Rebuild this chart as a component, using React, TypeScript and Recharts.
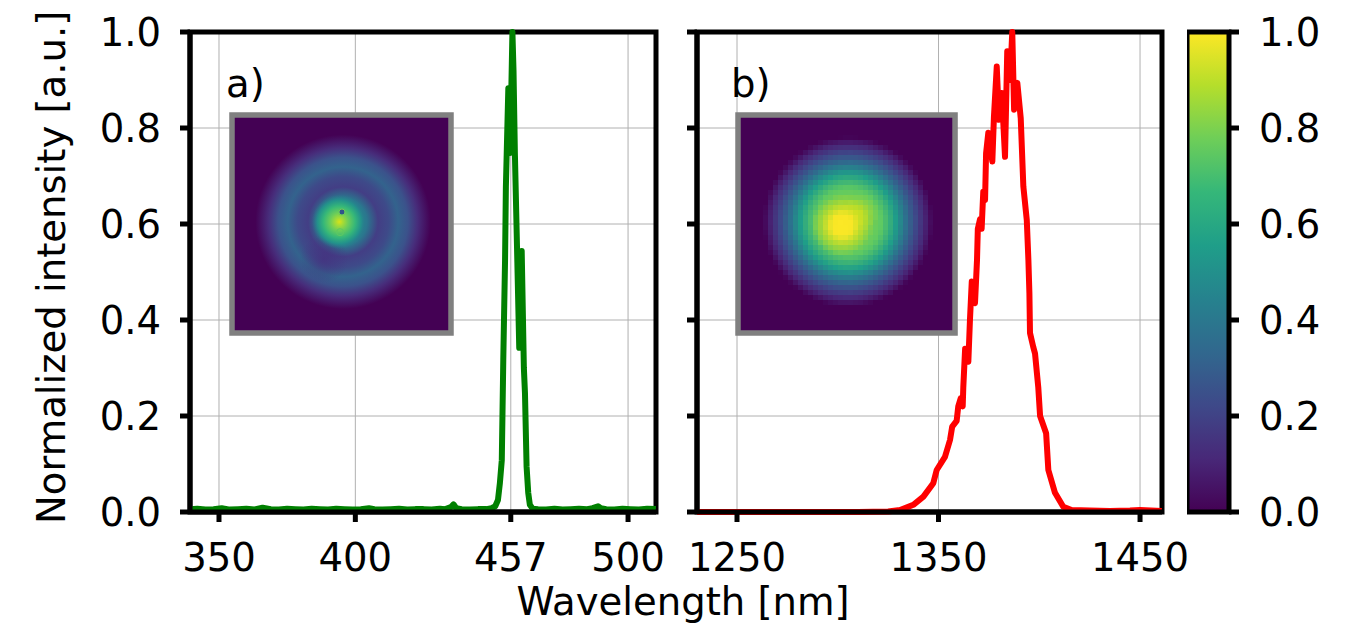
import React from "react";
import { LineChart, Line, XAxis, YAxis, CartesianGrid, ReferenceArea, ReferenceDot } from "recharts";

const greenWavelength = [339.5,342,345,348,351,354,357,360,363,366,369,372,375,378,381,384,387,390,393,396,399,402,405,407,410,413,416,419,422,425,428,431,433,435,436,437,439,442,445,448,450,451.3,452.3,453,453.7,454.25,454.9,455.2,456.1,456.7,457.1,457.6,458,458.5,459.2,460.1,461,461.8,462.2,462.8,463.4,464,465,467,470,473,476,479,482,485,487,489,490,492,495,498,501,504,507,510.2];
const greenIntensity = [0.006,0.007,0.005,0.006,0.008,0.005,0.006,0.007,0.005,0.009,0.006,0.005,0.007,0.006,0.005,0.007,0.006,0.005,0.007,0.006,0.005,0.006,0.008,0.006,0.005,0.006,0.007,0.005,0.006,0.006,0.005,0.007,0.006,0.01,0.016,0.008,0.006,0.005,0.006,0.006,0.008,0.012,0.025,0.06,0.108,0.317,0.525,0.677,0.883,0.748,0.85,1,0.92,0.748,0.573,0.342,0.544,0.3,0.248,0.094,0.04,0.015,0.007,0.006,0.005,0.007,0.005,0.006,0.007,0.006,0.008,0.012,0.008,0.006,0.005,0.007,0.006,0.005,0.007,0.006];

const redWavelength = [1230.2,1260,1290,1310,1325,1330.9,1337.5,1342.5,1347.4,1349.1,1353.2,1355.7,1356.8,1359,1359.8,1361,1362,1362.3,1363.2,1364.8,1365.6,1366.5,1368.1,1369.1,1369.5,1370.6,1371.4,1372.2,1373.1,1373.6,1374.7,1376.7,1377.5,1378.9,1380,1381.4,1383,1384.1,1385.5,1386.6,1387.5,1389.1,1390.8,1392.1,1393.8,1394.6,1395.1,1395.4,1397,1397.9,1399.5,1400.4,1403.4,1404.5,1407.8,1411.9,1416,1425,1435,1445,1450,1460.8];
const redIntensity = [0,0,0,0,0.001,0.004,0.015,0.032,0.06,0.0875,0.115,0.15,0.178,0.19,0.22,0.237,0.22,0.26,0.34,0.313,0.4,0.48,0.435,0.525,0.59,0.61,0.59,0.667,0.65,0.747,0.79,0.73,0.823,0.928,0.817,0.873,0.74,0.96,0.9,1,0.838,0.894,0.82,0.678,0.608,0.525,0.456,0.373,0.344,0.33,0.26,0.2,0.164,0.0875,0.04,0.011,0.004,0.003,0.002,0.003,0.004,0.002];

const fractionTicks = [0, 0.2, 0.4, 0.6, 0.8, 1];
const leftWavelengthTicks = [350, 400, 457, 500];
const rightWavelengthTicks = [1250, 1350, 1450];
const leftDomain = [339.37, 510.25];
const rightDomain = [1230.15, 1460.9];

const viridisStops = ["#fde725","#b5de2b","#6ece58","#35b779","#1f9e89","#26828e","#31688e","#3e4989","#482878","#440154"];

const insetARing: [number,string][] = [[0,"#2a788e"],[0.27,"#2a788e"],[0.4,"#433e85"],[0.52,"#3e4a89"],[0.63,"#33638d"],[0.74,"#3b528b"],[0.85,"#472d7b"],[1,"#440154"]];
const insetACore: [number,string,number][] = [[0,"#d8e219",1],[0.14,"#a5db36",1],[0.32,"#6ece58",1],[0.58,"#35b779",1],[0.8,"#22958b",0.9],[1,"#2a788e",0]];
const insetAShadow: [number,string,number][] = [[0,"#45307f",0.75],[1,"#45307f",0]];
const insetBBase: [number,string][] = [[0,"#a0da39"],[0.39,"#5ec962"],[0.56,"#1f9e89"],[0.68,"#2d718e"],[0.8,"#3e4989"],[0.9,"#482878"],[1,"#440154"]];
const insetBCore: [number,string,number][] = [[0,"#fde725",1],[0.35,"#fde725",0.95],[0.7,"#d8e219",0.5],[1,"#d8e219",0]];
const insetBLobe: [number,string,number][] = [[0,"#c8e020",0.8],[1,"#b5de2b",0]];

const FONT = "'DejaVu Sans', sans-serif";
const TICK_SIZE = 38.6;
const toRows = (xs: number[], ys: number[]) => xs.map((x, i) => ({ x, y: ys[i] }));
const tickStyle = { fill: "#000", fontSize: TICK_SIZE, fontFamily: FONT };
const tickLineStyle = { stroke: "#000", strokeWidth: 5 };
const axisLineStyle = { stroke: "#000", strokeWidth: 5 };

function Frame(x1: number, x2: number) {
  return <ReferenceArea x1={x1} x2={x2} y1={0} y2={1} fill="none" stroke="#000" strokeWidth={5} strokeOpacity={1} ifOverflow="visible" />;
}

export default function App() {
  return (
    <div style={{ position: "absolute", left: 0, top: 0, width: 1366, height: 640, background: "#fff", overflow: "hidden" }}>
      <div style={{ position: "absolute", left: 0, top: 0 }}>
        <LineChart width={700} height={640} data={toRows(greenWavelength, greenIntensity)} margin={{ left: 0, right: 44, top: 32, bottom: 0 }}>
          <defs>
            <radialGradient id="aRing" cx="0.507" cy="0.49" r="0.4">
              {insetARing.map(([o, c]) => <stop key={o} offset={o} stopColor={c} />)}
            </radialGradient>
            <radialGradient id="aCore" cx="0.49" cy="0.49" r="0.125">
              {insetACore.map(([o, c, a]) => <stop key={o} offset={o} stopColor={c} stopOpacity={a} />)}
            </radialGradient>
            <radialGradient id="aShadow" cx="0.42" cy="0.66" r="0.11">
              {insetAShadow.map(([o, c, a]) => <stop key={o} offset={o} stopColor={c} stopOpacity={a} />)}
            </radialGradient>
          </defs>
          <CartesianGrid stroke="#b0b0b0" strokeWidth={1} />
          <XAxis dataKey="x" type="number" domain={leftDomain} ticks={leftWavelengthTicks} interval={0} height={128} tickSize={10} tickMargin={22} tick={tickStyle} tickLine={tickLineStyle} axisLine={axisLineStyle} allowDataOverflow />
          <YAxis type="number" domain={[0, 1]} ticks={fractionTicks} interval={0} width={190} tickSize={10} tickMargin={19} tick={tickStyle} tickLine={tickLineStyle} axisLine={axisLineStyle} tickFormatter={(v: number) => v.toFixed(1)}
            label={{ value: "Normalized intensity [a.u.]", angle: -90, position: "insideLeft", dx: 46, dy: 252, style: { fontSize: TICK_SIZE, fontFamily: FONT, fill: "#000", textAnchor: "start" } }} />
          <ReferenceArea x1={354.77} x2={435.08} y1={0.373} y2={0.827} fill="url(#aRing)" fillOpacity={1} stroke="#808080" strokeOpacity={1} strokeWidth={5.5} />
          <ReferenceArea x1={354.77} x2={435.08} y1={0.373} y2={0.827} fill="url(#aShadow)" fillOpacity={1} stroke="none" />
          <ReferenceArea x1={354.77} x2={435.08} y1={0.373} y2={0.827} fill="url(#aCore)" fillOpacity={1} stroke="none" />
          <ReferenceDot x={395.1} y={0.625} r={3} fill="#31538b" stroke="#6ece58" strokeWidth={1} />
          <ReferenceDot x={394.4} y={0.583} r={3.5} fill="none" stroke="#5ec962" strokeWidth={1} />
          <Line dataKey="y" stroke="#008000" strokeWidth={6} strokeLinejoin="round" dot={false} isAnimationActive={false} type="linear" />
          {Frame(leftDomain[0], leftDomain[1])}
        </LineChart>
      </div>
      <div style={{ position: "absolute", left: 660, top: 0 }}>
        <LineChart width={560} height={640} data={toRows(redWavelength, redIntensity)} margin={{ left: 0, right: 58, top: 32, bottom: 0 }}>
          <defs>
            <radialGradient id="bBase" cx="0.507" cy="0.49" r="0.39">
              {insetBBase.map(([o, c]) => <stop key={o} offset={o} stopColor={c} />)}
            </radialGradient>
            <radialGradient id="bLobe" cx="0.56" cy="0.45" r="0.09">
              {insetBLobe.map(([o, c, a]) => <stop key={o} offset={o} stopColor={c} stopOpacity={a} />)}
            </radialGradient>
            <radialGradient id="bCore" cx="0.48" cy="0.505" r="0.14">
              {insetBCore.map(([o, c, a]) => <stop key={o} offset={o} stopColor={c} stopOpacity={a} />)}
            </radialGradient>
            <filter id="pixelate" filterUnits="userSpaceOnUse" x="78" y="115" width="217" height="218" colorInterpolationFilters="sRGB">
              <feFlood x="80" y="117" width="1" height="1" />
              <feComposite x="78" y="115" width="5" height="5" />
              <feTile result="lattice" />
              <feComposite in="SourceGraphic" in2="lattice" operator="in" />
              <feMorphology operator="dilate" radius="2" />
            </filter>
          </defs>
          <CartesianGrid stroke="#b0b0b0" strokeWidth={1} />
          <XAxis dataKey="x" type="number" domain={rightDomain} ticks={rightWavelengthTicks} interval={0} height={128} tickSize={10} tickMargin={22} tick={tickStyle} tickLine={tickLineStyle} axisLine={axisLineStyle} allowDataOverflow />
          <YAxis type="number" domain={[0, 1]} ticks={fractionTicks} interval={0} width={37} tickSize={10} tick={tickStyle} tickFormatter={() => ""} tickLine={tickLineStyle} axisLine={axisLineStyle} />
          <ReferenceArea x1={1250.5} x2={1358.2} y1={0.373} y2={0.827} fill="#440154" fillOpacity={1} stroke="none" />
          <ReferenceArea x1={1250.5} x2={1358.2} y1={0.373} y2={0.827} fill="url(#bBase)" fillOpacity={1} stroke="none" filter="url(#pixelate)" />
          <ReferenceArea x1={1250.5} x2={1358.2} y1={0.373} y2={0.827} fill="url(#bLobe)" fillOpacity={1} stroke="none" filter="url(#pixelate)" />
          <ReferenceArea x1={1250.5} x2={1358.2} y1={0.373} y2={0.827} fill="url(#bCore)" fillOpacity={1} stroke="none" filter="url(#pixelate)" />
          <ReferenceArea x1={1250.5} x2={1358.2} y1={0.373} y2={0.827} fill="none" stroke="#808080" strokeOpacity={1} strokeWidth={5.5} />
          <Line dataKey="y" stroke="#ff0000" strokeWidth={6} strokeLinejoin="round" dot={false} isAnimationActive={false} type="linear" />
          {Frame(rightDomain[0], rightDomain[1])}
        </LineChart>
      </div>
      <div style={{ position: "absolute", left: 1187, top: 0 }}>
        <LineChart width={179} height={640} data={[{ x: 0, y: 0 }, { x: 1, y: 1 }]} margin={{ left: 0, right: 0, top: 32, bottom: 128 }}>
          <defs>
            <linearGradient id="viridis" x1="0" y1="0" x2="0" y2="1">
              {viridisStops.map((c, i) => <stop key={c} offset={i / (viridisStops.length - 1)} stopColor={c} />)}
            </linearGradient>
          </defs>
          <XAxis dataKey="x" type="number" domain={[0, 1]} hide />
          <YAxis orientation="right" type="number" domain={[0, 1]} ticks={fractionTicks} interval={0} width={137} tickSize={10} tickMargin={20} tick={tickStyle} tickLine={tickLineStyle} axisLine={false} tickFormatter={(v: number) => v.toFixed(1)} />
          <ReferenceArea x1={0} x2={1} y1={0} y2={1} fill="url(#viridis)" fillOpacity={1} stroke="#000" strokeOpacity={1} strokeWidth={5} />
          <Line dataKey="y" stroke="none" dot={false} isAnimationActive={false} />
        </LineChart>
      </div>
      <div style={{ position: "absolute", left: 226, top: 60, fontFamily: FONT, fontSize: TICK_SIZE, lineHeight: "48px", color: "#000" }}>a)</div>
      <div style={{ position: "absolute", left: 731, top: 60, fontFamily: FONT, fontSize: TICK_SIZE, lineHeight: "48px", color: "#000" }}>b)</div>
      <div style={{ position: "absolute", left: 383, width: 600, top: 578, textAlign: "center", fontFamily: FONT, fontSize: TICK_SIZE, lineHeight: "48px", color: "#000" }}>Wavelength [nm]</div>
    </div>
  );
}
